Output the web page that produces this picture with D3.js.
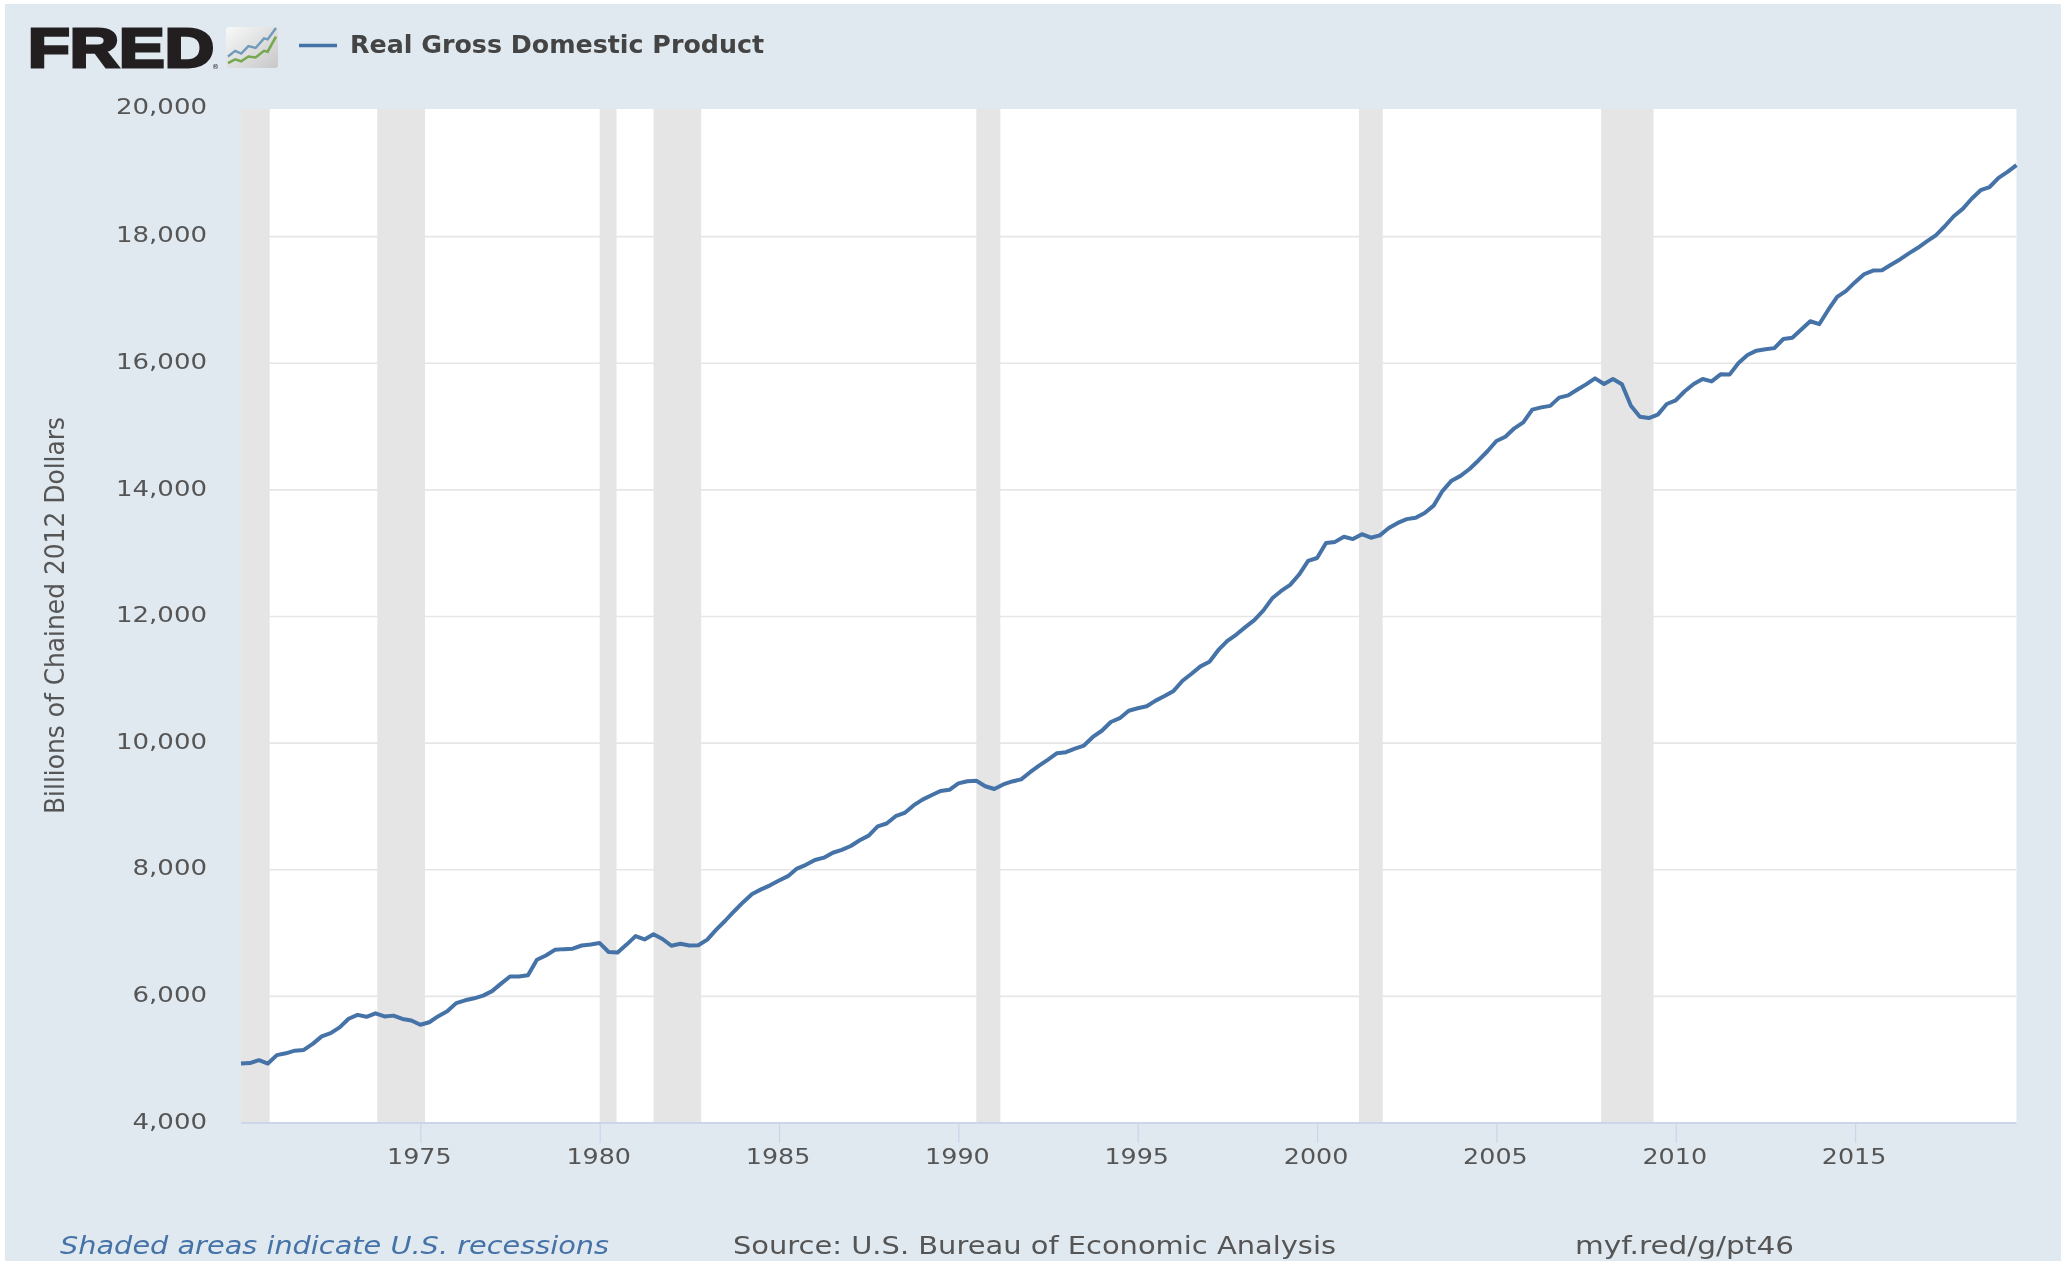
<!DOCTYPE html>
<html><head><meta charset="utf-8">
<script src="https://cdn.jsdelivr.net/npm/d3@7/dist/d3.min.js"></script>
<style>html,body{margin:0;padding:0;background:#fff;overflow:hidden}svg{display:block;filter:blur(0.6px)}text{font-family:"DejaVu Sans",sans-serif}</style>
</head><body><svg id="c" width="2061" height="1261"></svg>
<script>
const startYear = 1970;
const gdpValues = [
4939.8,4946.7,4992.4,4938.9, 5072.4,5100.4,5142.4,5154.5, 5249.3,5368.5,5419.2,5509.9,
5646.3,5707.8,5677.7,5731.6, 5682.4,5695.9,5642.7,5620.1, 5551.7,5591.4,5687.2,5763.7,
5893.3,5937.6,5969.5,6012.4, 6083.4,6201.7,6313.6,6313.6, 6333.8,6578.3,6644.8,6734.7,
6746.2,6753.4,6803.5,6820.8, 6842.0,6701.0,6693.1,6817.9, 6951.5,6899.0,6982.7,6906.5,
6799.2,6830.3,6804.2,6806.9, 6896.6,7053.5,7194.5,7344.6, 7488.2,7617.5,7690.2,7754.1,
7829.3,7898.6,8018.8,8078.4, 8153.8,8190.6,8268.9,8313.3, 8375.3,8465.6,8539.1,8685.7,
8730.6,8845.3,8897.1,9015.7, 9107.3,9176.8,9244.8,9263.0, 9364.3,9398.2,9404.5,9318.9,
9275.3,9347.6,9394.8,9427.6, 9540.4,9643.9,9739.2,9840.8, 9857.2,9914.6,9961.9,10097.4,
10195.3,10333.5,10393.9,10512.0, 10550.3,10581.7,10671.7,10744.2, 10824.7,10985.0,11096.0,11212.2,
11284.6,11472.1,11615.6,11715.4, 11832.5,11942.0,12091.6,12287.0, 12403.3,12498.7,12662.4,12877.6,
12924.2,13160.8,13178.4,13260.5, 13222.7,13300.0,13244.8,13280.9, 13397.0,13478.1,13538.1,13559.0,
13634.3,13751.5,13985.1,14145.6, 14221.1,14329.5,14464.9,14609.9, 14771.6,14839.8,14972.1,15066.6,
15267.0,15302.7,15326.4,15456.9, 15493.3,15582.1,15666.7,15762.0, 15671.4,15752.3,15667.0,15328.0,
15155.9,15134.1,15189.2,15356.1, 15415.1,15557.3,15671.9,15750.6, 15712.8,15825.1,15820.7,16004.1,
16129.4,16198.8,16220.7,16239.1, 16383.0,16403.2,16531.7,16663.6, 16616.5,16841.5,17047.1,17143.0,
17280.6,17405.7,17463.2,17468.9, 17556.8,17639.4,17735.1,17824.2, 17925.3,18021.0,18163.6,18322.5,
18438.3,18598.1,18732.7,18783.5, 18927.3,19021.9,19130.0];
const recessionStarts = [1970.0,1973.8,1980.0,1981.5,1990.5,2001.17,2007.92];
const recessionEnds   = [1970.8,1975.13,1980.47,1982.83,1991.17,2001.83,2009.38];
const xTickYears = [1975,1980,1985,1990,1995,2000,2005,2010,2015];
const yTickValues = [4000,6000,8000,10000,12000,14000,16000,18000,20000];
const legendLabel = "Real Gross Domestic Product";
const yTitle = "Billions of Chained 2012 Dollars";
const noteLabel = "Shaded areas indicate U.S. recessions";
const sourceLabel = "Source: U.S. Bureau of Economic Analysis";
const linkLabel = "myf.red/g/pt46";
const iconBlue = [[0,30],[6,24],[11,27],[17,19],[23,21],[30,11],[33,12],[40,0]];
const iconGreen = [[0,37],[6,33],[11,35],[17,30],[23,31],[30,24],[33,25],[40,9]];

const svg = d3.select("#c");
const stretch = (sel, f) => sel.each(function(){ this.setAttribute("textLength", this.getComputedTextLength()*f); this.setAttribute("lengthAdjust","spacingAndGlyphs"); });

svg.append("rect").attr("x",5).attr("y",4).attr("width",2056).attr("height",1257).attr("fill","#e1e9f0");

const x = d3.scaleLinear().domain([1970,2019.5]).range([241,2016.5]);
const y = d3.scaleLinear().domain([4000,20000]).range([1123,110]);
const plotTop = 109;

svg.append("rect").attr("x",x.range()[0]).attr("y",plotTop).attr("width",x.range()[1]-x.range()[0]).attr("height",1123-plotTop).attr("fill","#fff");

// grid
svg.append("g").selectAll("line").data(yTickValues.slice(1,-1)).join("line")
  .attr("x1",x.range()[0]).attr("x2",x.range()[1]).attr("y1",d=>y(d)).attr("y2",d=>y(d))
  .attr("stroke","#e6e6e6").attr("stroke-width",1.6);

// recessions
svg.append("g").selectAll("rect").data(recessionStarts).join("rect")
  .attr("x",d=>x(d)).attr("y",plotTop).attr("height",1122-plotTop)
  .attr("width",(d,i)=>x(recessionEnds[i])-x(d)).attr("fill","#e5e5e5");

// x axis
const xg = svg.append("g").attr("transform","translate(0,1123)")
  .call(d3.axisBottom(x).tickValues(xTickYears).tickFormat(d3.format("d")).tickSize(20).tickPadding(10));
xg.select(".domain").attr("stroke","#ccd6eb").attr("stroke-width",2).attr("d",`M${x.range()[0]},0H${x.range()[1]}`);
xg.selectAll(".tick line").attr("stroke","#ccd6eb").attr("stroke-width",1.3);
xg.selectAll("text").attr("fill","#555").attr("font-size",21.5).attr("x",-1.5).attr("y",41).attr("dy",0).call(stretch,1.18);

// y axis
const yg = svg.append("g").attr("transform",`translate(${x.range()[0]},0)`)
  .call(d3.axisLeft(y).tickValues(yTickValues).tickFormat(d3.format(",")).tickSize(0).tickPadding(34));
yg.select(".domain").remove();
yg.selectAll("text").attr("fill","#555").attr("font-size",21.5).attr("dy","0.24em").call(stretch,1.21);
yg.selectAll(".tick").filter(d=>d===20000).attr("transform","translate(0,109)");

// series line
const line = d3.line().x((d,i)=>x(startYear+i/4)).y(d=>y(d)).curve(d3.curveLinear);
svg.append("path").datum(gdpValues).attr("d",line).attr("fill","none").attr("stroke","#4572a7").attr("stroke-width",4).attr("stroke-linejoin","round");

// y title
svg.append("text").attr("transform","translate(56,615.5) rotate(-90)").attr("text-anchor","middle").attr("dominant-baseline","middle")
  .attr("font-size",27).attr("fill","#555").text(yTitle)
  .each(function(){this.setAttribute("textLength",397);this.setAttribute("lengthAdjust","spacingAndGlyphs");});
// header logo
svg.append("text").attr("x",28).attr("y",67).style("font-family","'Liberation Sans'").attr("font-weight",700).attr("font-size",56)
  .attr("fill","#231f20").attr("stroke","#231f20").attr("stroke-width",3).text("FRED")
  .each(function(){this.setAttribute("textLength",186);this.setAttribute("lengthAdjust","spacingAndGlyphs");});
svg.append("text").attr("x",212).attr("y",69).attr("font-size",7).attr("fill","#231f20").text("®");
const grad = svg.append("defs").append("linearGradient").attr("id","ic").attr("x1",0).attr("y1",0).attr("x2",1).attr("y2",1);
grad.append("stop").attr("offset",0).attr("stop-color","#f7f8f8");
grad.append("stop").attr("offset",1).attr("stop-color","#c8c8c8");
const icon = svg.append("g").attr("transform","translate(226,27)");
icon.append("rect").attr("width",52).attr("height",41).attr("rx",3).attr("fill","url(#ic)");
const iconLine = d3.line().x(d=>d[0]*1.2+2).y(d=>d[1]*0.95+1);
icon.append("path").datum(iconBlue).attr("d",iconLine).attr("fill","none").attr("stroke","#6f9abb").attr("stroke-width",2.4);
icon.append("path").datum(iconGreen).attr("d",iconLine).attr("fill","none").attr("stroke","#76a84f").attr("stroke-width",2.6);

// legend
svg.append("line").attr("x1",299).attr("x2",337).attr("y1",45.5).attr("y2",45.5).attr("stroke","#4572a7").attr("stroke-width",3.6);
svg.append("text").attr("x",350).attr("y",53).attr("font-size",24).attr("font-weight",700).attr("fill","#444").text(legendLabel)
  .each(function(){this.setAttribute("textLength",414);this.setAttribute("lengthAdjust","spacingAndGlyphs");});

// footer
const foot = (t,x0,w,col,st)=>svg.append("text").attr("x",x0).attr("y",1254).attr("font-size",24).attr("font-style",st).attr("fill",col).text(t)
  .each(function(){this.setAttribute("textLength",w);this.setAttribute("lengthAdjust","spacingAndGlyphs");});
foot(noteLabel,60,549,"#4572a7","italic");
foot(sourceLabel,733,603,"#555","normal");
foot(linkLabel,1575,219,"#555","normal");
</script></body></html>
